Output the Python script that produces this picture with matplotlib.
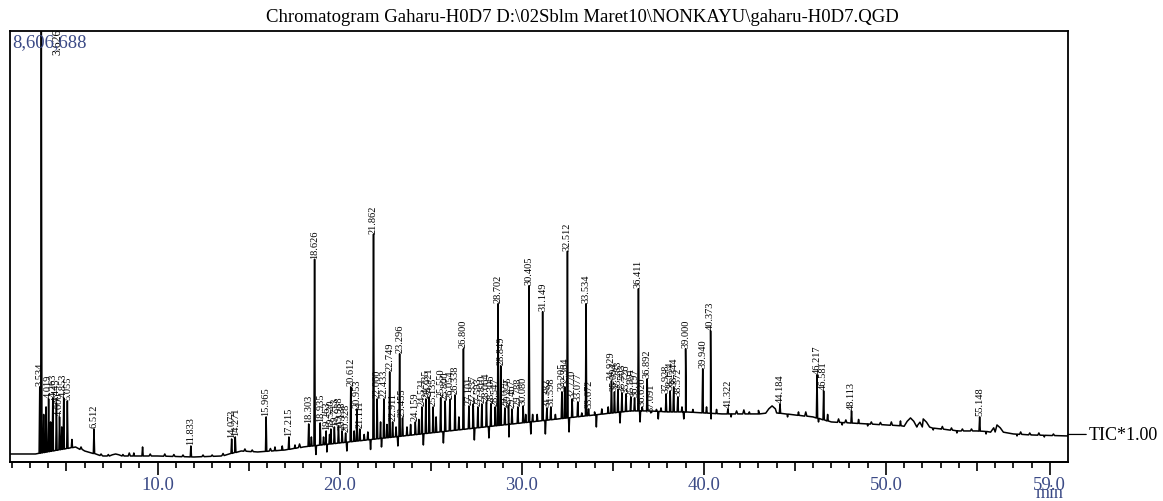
import numpy as np
import matplotlib.pyplot as plt

# ---- data (time in min, intensity in millions of counts) ----
max_int = 8.606688

base_t = [1.9, 3.3, 5.5, 6.0, 7.0, 10.0, 12.0, 13.5, 14.6, 15.5, 17.0, 18.0, 19.0, 20.0,
          21.0, 22.0, 23.0, 24.0, 25.0, 26.0, 27.0, 28.0, 29.0, 30.0, 31.0, 32.0, 33.0,
          34.0, 35.0, 36.0, 37.0, 38.0, 39.0, 40.0, 41.0, 42.0, 43.0, 44.0, 45.0, 46.0,
          47.0, 48.0, 50.0, 52.0, 53.0, 54.0, 55.0, 56.0, 57.0, 58.0, 60.0]
base_v = [0.16, 0.16, 0.30, 0.22, 0.12, 0.12, 0.10, 0.12, 0.22, 0.20, 0.24, 0.30, 0.34, 0.38,
          0.42, 0.46, 0.50, 0.54, 0.58, 0.62, 0.66, 0.70, 0.74, 0.78, 0.82, 0.86, 0.90,
          0.94, 0.98, 1.02, 1.02, 1.00, 1.00, 0.98, 0.96, 0.96, 0.96, 0.98, 0.94, 0.90,
          0.80, 0.78, 0.74, 0.70, 0.66, 0.62, 0.62, 0.60, 0.56, 0.54, 0.52]

peak_t = [3.534, 3.62, 3.75, 3.88, 4.02, 4.13, 4.25, 4.45, 4.62, 4.74, 4.85, 5.05, 5.3,
          6.512, 8.7, 9.18, 11.833, 14.072, 14.271, 15.965, 16.45, 16.85, 17.215, 17.55,
          18.303, 18.45, 18.626, 18.935, 19.12, 19.263, 19.45, 19.52, 19.713, 19.938,
          20.138, 20.33, 20.612, 20.80, 20.953, 21.111, 21.35, 21.55, 21.862, 22.06,
          22.25, 22.433, 22.60, 22.749, 22.911, 23.10, 23.296, 23.455, 23.70, 23.90,
          24.159, 24.35, 24.521, 24.735, 24.921, 25.135, 25.30, 25.55, 25.80, 26.054,
          26.338, 26.55, 26.800, 27.101, 27.337, 27.593, 27.810, 28.064, 28.306, 28.547,
          28.702, 28.849, 29.075, 29.275, 29.467, 29.788, 30.080, 30.22, 30.405, 30.60,
          30.85, 31.149, 31.382, 31.598, 31.85, 32.205, 32.364, 32.512, 32.770, 33.077,
          33.30, 33.534, 33.672, 34.00, 34.40, 34.75, 34.929, 35.094, 35.283, 35.503,
          35.726, 35.991, 36.197, 36.411, 36.620, 36.892, 37.091, 37.40, 37.65, 37.928,
          38.154, 38.344, 38.572, 38.80, 39.000, 39.40, 39.940, 40.15, 40.373, 40.70,
          41.322, 42.5, 44.184, 45.2, 46.217, 46.581, 46.8, 48.113, 48.5, 50.8, 55.148]
peak_h = [1.50, 8.61, 0.95, 1.10, 1.26, 0.80, 1.28, 1.18, 0.90, 0.70, 1.28, 1.22, 0.45,
          0.66, 0.18, 0.30, 0.32, 0.46, 0.50, 0.90, 0.30, 0.32, 0.50, 0.34,
          0.76, 0.50, 4.05, 0.78, 0.50, 0.62, 0.55, 0.66, 0.70, 0.72,
          0.62, 0.58, 1.50, 0.62, 1.06, 0.66, 0.55, 0.60, 4.55, 1.26,
          0.80, 1.26, 0.75, 1.80, 0.80, 0.70, 2.16, 0.88, 0.70, 0.75,
          0.80, 0.85, 1.10, 1.26, 1.30, 1.10, 0.90, 1.28, 1.22, 1.25,
          1.34, 0.90, 2.26, 1.12, 1.16, 1.10, 1.16, 1.20, 1.16, 1.10,
          3.16, 1.92, 1.08, 1.12, 1.06, 1.10, 1.12, 0.95, 3.52, 0.95,
          0.95, 3.00, 1.08, 1.10, 0.95, 1.40, 1.50, 4.21, 1.26, 1.20,
          0.98, 3.16, 1.06, 1.00, 1.06, 1.10, 1.62, 1.40, 1.45, 1.38,
          1.36, 1.30, 1.28, 3.46, 1.10, 1.66, 0.98, 1.05, 1.08, 1.36,
          1.42, 1.50, 1.30, 1.10, 2.26, 1.05, 1.86, 1.10, 2.62, 1.05,
          1.06, 1.00, 1.16, 1.00, 1.74, 1.42, 0.95, 1.02, 0.85, 0.82, 0.90]
peak_lab = ['3.534', '', '', '', '4.019', '', '4.263', '4.445', '4.600', '', '4.853', '5.055', '',
            '6.512', '', '', '11.833', '14.072', '14.271', '15.965', '', '', '17.215', '',
            '18.303', '', '18.626', '18.935', '', '19.263', '', '19.520', '19.713', '19.938',
            '20.138', '20.328', '20.612', '', '20.953', '21.111', '', '', '21.862', '22.060',
            '', '22.433', '', '22.749', '22.911', '', '23.296', '23.455', '', '',
            '24.159', '', '24.521', '24.735', '24.921', '25.135', '', '25.550', '25.800', '26.054',
            '26.338', '', '26.800', '27.101', '27.337', '27.593', '27.810', '28.064', '28.306', '28.547',
            '28.702', '28.849', '29.075', '29.275', '29.467', '29.788', '30.080', '', '30.405', '',
            '', '31.149', '31.382', '31.598', '', '32.205', '32.364', '32.512', '32.770', '33.077',
            '', '33.534', '33.672', '', '', '', '34.929', '35.094', '35.283', '35.503',
            '35.726', '35.991', '36.197', '36.411', '36.620', '36.892', '37.091', '', '', '37.928',
            '38.154', '38.344', '38.572', '', '39.000', '', '39.940', '', '40.373', '',
            '41.322', '', '44.184', '', '46.217', '46.581', '', '48.113', '', '', '55.148']
solvent_lab = '3.626'

# small unlabelled blips on the baseline
blip_t = [5.8, 6.9, 7.3, 8.1, 8.45, 9.6, 10.4, 10.9, 11.4, 12.5, 13.0, 13.6, 14.8, 15.2,
          16.2, 17.8, 41.8, 42.2, 43.0, 45.6, 47.4, 47.8, 49.2, 49.7, 50.3, 53.1, 53.6,
          54.2, 54.7, 57.4, 57.9, 58.4, 59.2]
blip_h = [0.30, 0.16, 0.15, 0.15, 0.18, 0.16, 0.16, 0.15, 0.14, 0.14, 0.14, 0.17, 0.26, 0.24,
          0.27, 0.36, 1.02, 1.04, 1.03, 1.00, 0.86, 0.84, 0.80, 0.79, 0.80, 0.71, 0.68,
          0.66, 0.66, 0.60, 0.58, 0.58, 0.56]

# broad humps on the baseline
bump_t = [7.7, 43.75, 51.35, 52.05, 56.1]
bump_h = [0.16, 1.12, 0.88, 0.86, 0.74]

# downward noise spikes
dip_t = [18.7, 19.3, 20.4, 21.7, 22.3, 23.2, 24.6, 25.7, 27.4, 28.2, 29.3, 30.5, 31.3,
         32.6, 34.1, 35.4, 36.5, 37.5, 38.9, 40.4, 41.5, 44.6, 46.3, 47.6, 49.0, 52.6,
         53.9, 55.5, 57.2, 58.7]
dip_v = [0.15, 0.20, 0.22, 0.25, 0.30, 0.32, 0.34, 0.38, 0.44, 0.48, 0.50, 0.56, 0.56,
         0.60, 0.70, 0.78, 0.80, 0.86, 0.86, 0.86, 0.90, 0.90, 0.80, 0.74, 0.72, 0.64,
         0.58, 0.56, 0.52, 0.50]

major_ticks = [10.0, 20.0, 30.0, 40.0, 50.0, 59.0]
mid_ticks = [5, 15, 25, 35, 45, 55]

title = r'Chromatogram Gaharu-H0D7 D:\02Sblm Maret10\NONKAYU\gaharu-H0D7.QGD'

# ---- build the trace ----
pts = list(zip(base_t, base_v))
for t, h in zip(peak_t, peak_h):
    b = np.interp(t, base_t, base_v)
    pts += [(t - 0.035, b), (t, h), (t + 0.035, b)]
for t, h in zip(blip_t, blip_h):
    b = np.interp(t, base_t, base_v)
    pts += [(t - 0.06, b), (t, h), (t + 0.06, b)]
for t, h in zip(bump_t, bump_h):
    b = np.interp(t, base_t, base_v)
    d = h - b
    pts += [(t - 0.35, b), (t - 0.18, b + 0.6 * d), (t, h), (t + 0.18, b + 0.6 * d),
            (t + 0.35, b)]
for t, v in zip(dip_t, dip_v):
    b = np.interp(t, base_t, base_v)
    pts += [(t - 0.03, b), (t, v), (t + 0.03, b)]
pts.sort()
tr_t = [p[0] for p in pts]
tr_v = [p[1] for p in pts]

serif = 'Liberation Serif'
blue = '#3b4a86'

fig = plt.figure(figsize=(11.63, 5.02), dpi=100)
ax = fig.add_axes([10 / 1163, 39 / 502, 1058 / 1163, 431 / 502])
ax.plot(tr_t, tr_v, color='black', lw=1.1)

ax.set_xlim(1.9, 60.0)
ax.set_ylim(0, max_int)
ax.set_yticks([])

ax.set_xticks(major_ticks)
ax.set_xticklabels(['%.1f' % v for v in major_ticks], family=serif, fontsize=13.5, color=blue)
ax.set_xticks([m for m in range(2, 61) if m not in mid_ticks and m % 10 != 0 and m != 59],
              minor=True)
ax.tick_params(axis='x', which='major', length=9, width=1.2, pad=1, direction='out')
ax.tick_params(axis='x', which='minor', length=4, width=1.2, direction='out')
sec = ax.secondary_xaxis('bottom')
sec.set_xticks(mid_ticks)
sec.tick_params(length=6.5, width=1.2, labelbottom=False)
for s in ax.spines.values():
    s.set_linewidth(1.3)
sec.spines['bottom'].set_linewidth(1.3)

# peak labels
for t, h, lab in zip(peak_t, peak_h, peak_lab):
    if lab:
        ax.text(t, h + 0.03, lab, rotation=90, ha='center', va='bottom',
                fontsize=7.5, family=serif, color='black')
ax.annotate(solvent_lab, xy=(3.62, max_int), xytext=(16, -23), textcoords='offset pixels',
            rotation=90, ha='center', va='bottom', fontsize=8.5, family=serif,
            annotation_clip=False)

ax.text(0.002, 0.995, '8,606,688', transform=ax.transAxes, ha='left', va='top',
        fontsize=13.5, family=serif, color=blue)
ax.annotate('TIC*1.00', xy=(60.0, tr_v[-1] + 0.03), xytext=(21, 0), textcoords='offset pixels',
            ha='left', va='center', fontsize=13, family=serif,
            arrowprops=dict(arrowstyle='-', lw=0.9, shrinkA=0, shrinkB=0),
            annotation_clip=False)

fig.text(582 / 1163, 1 - 18 / 502, title, ha='center', va='center', fontsize=13.5, family=serif)
fig.text(1050 / 1163, 8 / 502, 'min', ha='center', va='center', fontsize=13, family=serif,
         color=blue)

plt.savefig('out.png', dpi=100)
